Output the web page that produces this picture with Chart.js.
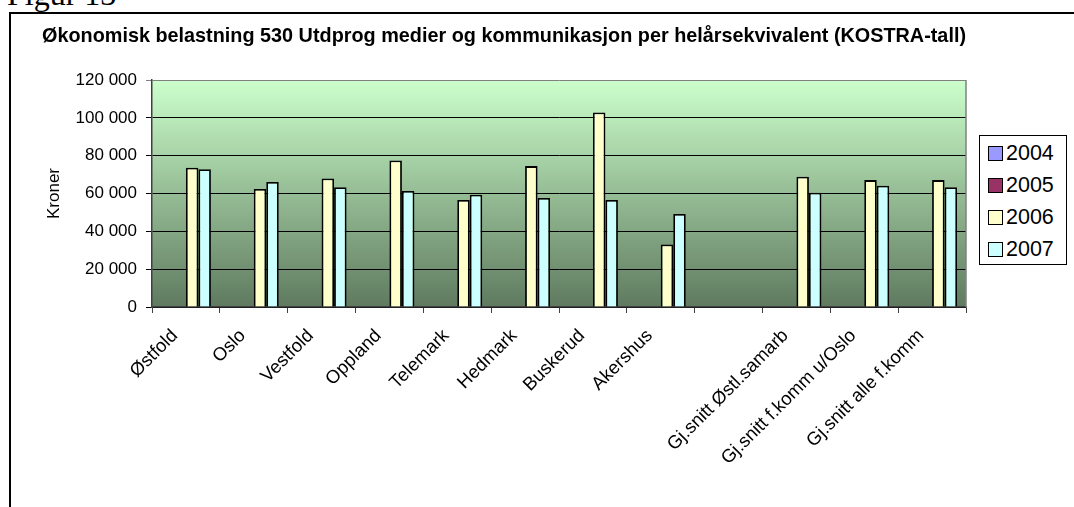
<!DOCTYPE html>
<html>
<head>
<meta charset="utf-8">
<script src="https://cdn.jsdelivr.net/npm/chart.js@4.4.1/dist/chart.umd.min.js"></script>
<style>
  html, body { margin: 0; padding: 0; background: #fff; }
  #wrap { position: relative; width: 1074px; height: 507px; overflow: hidden; }
  #frame { position: absolute; left: 9px; top: 12px; width: 1100px; height: 520px;
           border-left: 2px solid #000; border-top: 2px solid #000; }
  #fig { position: absolute; left: 7px; top: -22px; font: 32px 'Liberation Serif', 'Times New Roman', serif;
         line-height: 1; white-space: nowrap; }
  #myChart { position: absolute; left: 0; top: 0; }
  #legend { position: absolute; left: 979px; top: 135px; width: 88px; height: 130px; box-sizing: border-box;
            border: 1px solid #000; background: #fff; padding-top: 1px; }
  .item { height: 32.2px; display: flex; align-items: center; font: 21.5px 'Liberation Sans', Arial, sans-serif; }
  .sw { width: 13px; height: 13px; border: 1.5px solid #000; margin-left: 8px; margin-right: 3px; }
</style>
</head>
<body>
<div id="wrap">
  <div id="fig">Figur 13</div>
  <div id="frame"></div>
  <canvas id="myChart" width="1074" height="507"></canvas>
  <div id="legend"></div>
</div>
<script>
const categories = ['Østfold', 'Oslo', 'Vestfold', 'Oppland', 'Telemark', 'Hedmark', 'Buskerud', 'Akershus', '',
    'Gj.snitt Østl.samarb', 'Gj.snitt f.komm u/Oslo', 'Gj.snitt alle f.komm'];
const years = ['2004', '2005', '2006', '2007'];
const v2004 = [null, null, null, null, null, null, null, null, null, null, null, null];
const v2005 = [null, null, null, null, null, null, null, null, null, null, null, null];
const v2006 = [73600, 62400, 68000, 77500, 56600, 74500, 102900, 33100, null, 68900, 67100, 67100];
const v2007 = [72800, 66100, 63300, 61300, 59400, 57600, 56600, 49200, null, 60400, 64100, 63300];
const colors = ['#9999FF', '#993366', '#FFFFCC', '#CCFFFF'];
const yMax = 120000;
const yStep = 20000;

const font = "'Liberation Sans', Arial, sans-serif";

// green gradient behind the plot + grey border on the right
const plotBg = {
    id: 'plotBg',
    beforeDraw(chart) {
        const a = chart.chartArea;
        const ctx = chart.ctx;
        const g = ctx.createLinearGradient(0, a.top, 0, a.bottom);
        g.addColorStop(0, '#CCFFCC');
        g.addColorStop(1, '#5F7A5F');
        ctx.save();
        ctx.fillStyle = g;
        ctx.fillRect(a.left, a.top, a.right - a.left, a.bottom - a.top);
        ctx.restore();
    },
    afterDraw(chart) {
        const a = chart.chartArea;
        const ctx = chart.ctx;
        ctx.save();
        ctx.strokeStyle = '#808080';
        ctx.lineWidth = 1.5;
        ctx.beginPath();
        ctx.moveTo(a.right, a.top);
        ctx.lineTo(a.right, a.bottom);
        ctx.stroke();
        ctx.restore();
    }
};

const seriesData = [v2004, v2005, v2006, v2007];

const ch = new Chart(document.getElementById('myChart').getContext('2d'), {
    type: 'bar',
    data: {
        labels: categories,
        datasets: years.map((y, i) => ({
            label: y,
            data: seriesData[i],
            backgroundColor: colors[i],
            borderColor: '#000',
            borderWidth: 1.8,
            categoryPercentage: 0.737,
            barPercentage: 1
        }))
    },
    options: {
        responsive: false,
        animation: false,
        layout: { padding: { left: 42, right: 108, top: 15, bottom: 0 } },
        plugins: {
            legend: { display: false },
            tooltip: { enabled: false },
            title: {
                display: true,
                text: 'Økonomisk belastning 530 Utdprog medier og kommunikasjon per helårsekvivalent (KOSTRA-tall)',
                align: 'start',
                color: '#000',
                font: { family: font, size: 20.2, weight: 'bold' },
                padding: { top: 9.4, bottom: 31.4 }
            }
        },
        scales: {
            x: {
                grid: { offset: true, drawOnChartArea: false, drawTicks: true, tickLength: 6, color: '#404040' },
                border: { color: '#404040', width: 1.5 },
                ticks: {
                    color: '#000',
                    font: { family: font, size: 18.5 },
                    minRotation: 45,
                    maxRotation: 45,
                    autoSkip: false,
                    padding: 12,
                    labelOffset: -11
                },
                afterFit(scale) { scale.height = 200; }
            },
            y: {
                min: 0,
                max: yMax,
                grid: {
                    color: c => (c.tick && c.tick.value === yMax) ? '#808080' : '#000',
                    tickLength: 6,
                    lineWidth: 1
                },
                border: { color: '#404040', width: 1.5 },
                ticks: {
                    stepSize: yStep,
                    color: '#000',
                    padding: 9,
                    font: { family: font, size: 17 },
                    callback: v => v.toLocaleString('en-US').replace(/,/g, ' ')
                },
                title: {
                    display: true,
                    text: 'Kroner',
                    color: '#000',
                    font: { family: font, size: 17 },
                    padding: { top: 2, bottom: 0 }
                },
                afterFit(scale) { scale.width = 110; }
            }
        }
    },
    plugins: [plotBg]
});

// legend box on the right, built from the chart's datasets
const leg = document.getElementById('legend');
ch.data.datasets.forEach(ds => {
    const row = document.createElement('div');
    row.className = 'item';
    const sw = document.createElement('span');
    sw.className = 'sw';
    sw.style.background = ds.backgroundColor;
    const t = document.createElement('span');
    t.textContent = ds.label;
    row.appendChild(sw);
    row.appendChild(t);
    leg.appendChild(row);
});
</script>
</body>
</html>
